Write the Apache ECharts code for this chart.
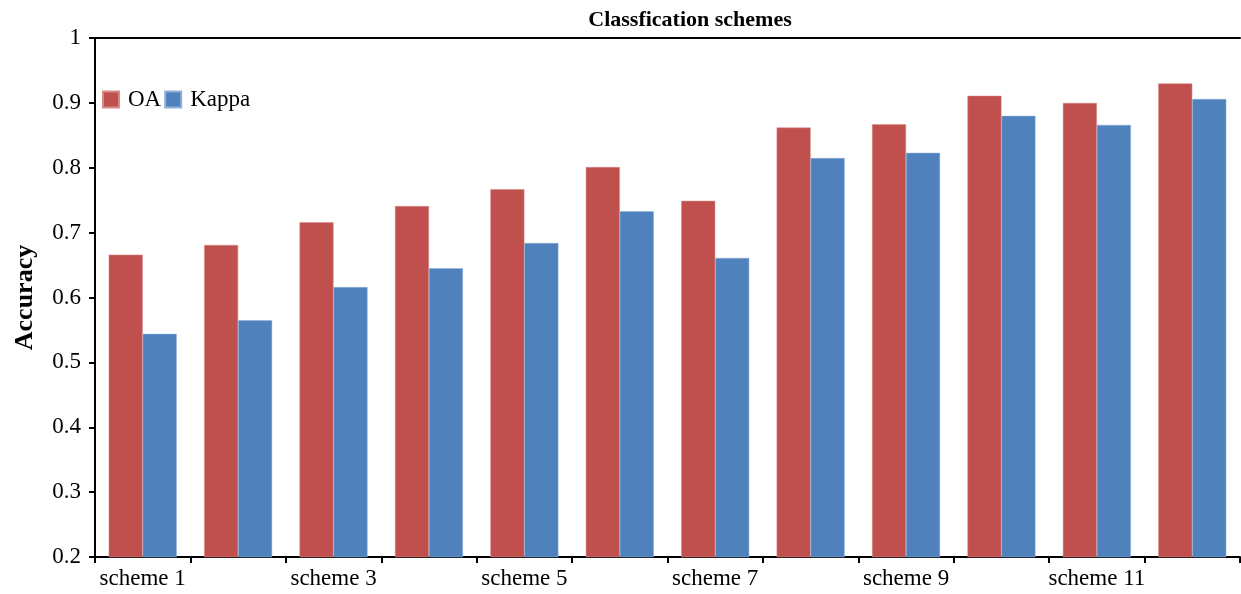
<!DOCTYPE html>
<html lang="en">
<head>
    <meta charset="UTF-8">
    <title>Classfication schemes</title>
    <script src="https://cdn.jsdelivr.net/npm/echarts@6/dist/echarts.min.js"></script>
</head>
<body style="margin:0;background:#fff;">
<div id="main" style="width:1241px;height:594px;"></div>
<script type="text/javascript">
    // categories and values
    var schemes = ['scheme 1', 'scheme 2', 'scheme 3', 'scheme 4', 'scheme 5', 'scheme 6',
                   'scheme 7', 'scheme 8', 'scheme 9', 'scheme 10', 'scheme 11', 'scheme 12'];
    var oa    = [0.666, 0.681, 0.716, 0.741, 0.767, 0.801, 0.749, 0.862, 0.867, 0.911, 0.900, 0.930];
    var kappa = [0.544, 0.565, 0.616, 0.645, 0.684, 0.733, 0.661, 0.815, 0.823, 0.880, 0.866, 0.906];

    var myChart = echarts.init(document.getElementById('main'));
    var serif = '"Liberation Serif", "DejaVu Serif", serif';

    myChart.setOption({
        animation: false,
        textStyle: { fontFamily: serif },
        title: {
            text: 'Classfication schemes',
            left: 685,
            textAlign: 'center',
            top: 4,
            textStyle: { fontFamily: serif, fontSize: 22, fontWeight: 'bold', color: '#000' }
        },
        legend: {
            left: 102,
            top: 88,
            padding: 0,
            itemWidth: 16,
            itemHeight: 16,
            itemGap: 3,
            icon: 'rect',
            textStyle: { fontFamily: serif, fontSize: 23, color: '#000', padding: [0, 0, 0, 4] },
            data: ['OA', 'Kappa']
        },
        grid: { left: 95, right: 1, top: 38, bottom: 37, outerBoundsMode: 'none' },
        xAxis: [{
            type: 'category',
            data: schemes,
            axisLine: { lineStyle: { color: '#000', width: 2 } },
            axisTick: { show: true, interval: 0, length: 6, lineStyle: { color: '#000', width: 2 } },
            axisLabel: { interval: 1, color: '#000', fontSize: 23, fontFamily: serif, margin: 10 }
        }, {
            type: 'category',
            position: 'top',
            data: schemes,
            axisLine: { lineStyle: { color: '#000', width: 2 } },
            axisTick: { show: false },
            axisLabel: { show: false }
        }],
        yAxis: {
            type: 'value',
            min: 0.2,
            max: 1,
            interval: 0.1,
            name: 'Accuracy',
            nameLocation: 'middle',
            nameGap: 57,
            nameTextStyle: { fontFamily: serif, fontSize: 26, fontWeight: 'bold', color: '#000' },
            axisLine: { show: true, lineStyle: { color: '#000', width: 2 } },
            axisTick: { show: true, length: 6, lineStyle: { color: '#000', width: 2 } },
            axisLabel: {
                color: '#000', fontSize: 23, fontFamily: serif, margin: 14,
                formatter: function (v) { return String(Math.round(v * 10) / 10); }
            },
            splitLine: { show: false }
        },
        series: [
            {
                name: 'OA',
                type: 'bar',
                data: oa,
                barWidth: 34,
                barGap: '0%',
                itemStyle: { color: '#C0504D', borderColor: '#D88A88', borderWidth: 0.5 }
            },
            {
                name: 'Kappa',
                type: 'bar',
                data: kappa,
                barWidth: 34,
                barGap: '0%',
                itemStyle: { color: '#4F81BD', borderColor: '#8FB0DA', borderWidth: 0.5 }
            }
        ]
    });
</script>
</body>
</html>
